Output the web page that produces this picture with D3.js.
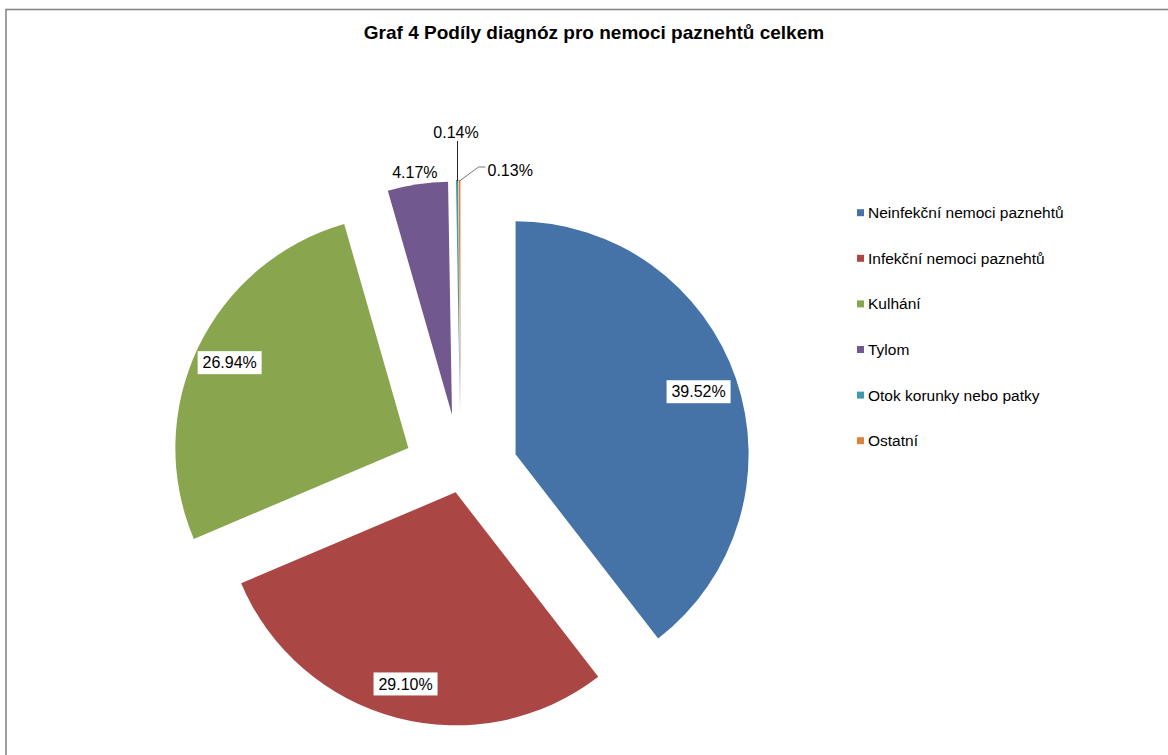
<!DOCTYPE html>
<html>
<head>
<meta charset="utf-8">
<script src="https://cdn.jsdelivr.net/npm/d3@7"></script>
<style>
    body { margin: 0; background: #fff; }
    text { font-family: "Liberation Sans", Arial, sans-serif; }
</style>
</head>
<body>
<div class="chart"></div>
<script>
let categories = [
    "Neinfekční nemoci paznehtů",
    "Infekční nemoci paznehtů",
    "Kulhání",
    "Tylom",
    "Otok korunky nebo patky",
    "Ostatní"
]

let values = [39.52, 29.10, 26.94, 4.17, 0.14, 0.13]

let labels = ["39.52%", "29.10%", "26.94%", "4.17%", "0.14%", "0.13%"]

let colors = ["#4572a7", "#aa4643", "#89a54e", "#71588f", "#4198af", "#db843d"]

// how far each slice is pulled out
let explode = [58, 20, 58, 59, 60, 60]

const width = 1168, height = 755
const radius = 233
const cx = 460.7, cy = 473

const svg = d3.select('.chart')
    .append('svg')
    .attr('width', width)
    .attr('height', height)

// chart area border
svg.append('rect')
    .attr('x', 6)
    .attr('y', 9.5)
    .attr('width', width + 20)
    .attr('height', height + 20)
    .attr('fill', 'none')
    .attr('stroke', '#888')
    .attr('stroke-width', 1.6)

svg.append('text')
    .attr('x', 594)
    .attr('y', 39)
    .attr('text-anchor', 'middle')
    .attr('font-weight', 'bold')
    .attr('font-size', '19px')
    .attr('fill', '#000')
    .text('Graf 4 Podíly diagnóz pro nemoci paznehtů celkem')

const pie = d3.pie().sort(null).value(d => d.value)
const data = pie(categories.map((c, i) => ({ name: c, value: values[i], i: i })))

const arc = d3.arc().innerRadius(0).outerRadius(radius)
const mid = d => (d.startAngle + d.endAngle) / 2
const offset = (d, r) => [Math.sin(mid(d)) * r, -Math.cos(mid(d)) * r]

const g = svg.append('g').attr('transform', `translate(${cx}, ${cy})`)

const slices = g.selectAll('.slice')
    .data(data)
    .join('g')
    .attr('class', 'slice')
    .attr('transform', d => `translate(${offset(d, explode[d.data.i])})`)

slices.append('path')
    .attr('d', arc)
    .attr('fill', d => colors[d.data.i])

// inside labels with white boxes
let labelR = [0.83, 0.85, 0.85]
const inner = slices.filter(d => d.data.i < 3)
inner.each(function(d) {
    const p = offset(d, radius * labelR[d.data.i])
    const sel = d3.select(this)
    sel.append('rect')
        .attr('x', p[0] - 32)
        .attr('y', p[1] - 11.5)
        .attr('width', 64)
        .attr('height', 23)
        .attr('fill', '#fff')
    sel.append('text')
        .attr('x', p[0])
        .attr('y', p[1])
        .attr('dy', '0.35em')
        .attr('text-anchor', 'middle')
        .attr('font-size', '16px')
        .attr('fill', '#000')
        .text(labels[d.data.i])
})

// purple label outside end
slices.filter(d => d.data.i == 3).each(function(d) {
    const p = offset(d, radius + 12)
    d3.select(this).append('text')
        .attr('x', p[0] - 1)
        .attr('y', p[1])
        .attr('dy', '0.35em')
        .attr('text-anchor', 'middle')
        .attr('font-size', '16px')
        .attr('fill', '#000')
        .text(labels[d.data.i])
})

// small slices with leader lines
slices.filter(d => d.data.i == 4).each(function(d) {
    const p = offset(d, radius - 1)
    const sel = d3.select(this)
    sel.append('line')
        .attr('x1', p[0] + 0.5).attr('y1', p[1])
        .attr('x2', p[0] + 0.5).attr('y2', p[1] - 40)
        .attr('stroke', '#222')
        .attr('stroke-width', 1)
    sel.append('text')
        .attr('x', p[0] - 1)
        .attr('y', p[1] - 49)
        .attr('dy', '0.35em')
        .attr('text-anchor', 'middle')
        .attr('font-size', '16px')
        .attr('fill', '#000')
        .text(labels[d.data.i])
})

slices.filter(d => d.data.i == 5).each(function(d) {
    const p = offset(d, radius - 1)
    const sel = d3.select(this)
    sel.append('polyline')
        .attr('points', [[p[0], p[1]], [p[0] + 19, p[1] - 14], [p[0] + 26, p[1] - 14]].join(' '))
        .attr('fill', 'none')
        .attr('stroke', '#777')
        .attr('stroke-width', 1)
    sel.append('text')
        .attr('x', p[0] + 28)
        .attr('y', p[1] - 11)
        .attr('dy', '0.35em')
        .attr('font-size', '16px')
        .attr('fill', '#000')
        .text(labels[d.data.i])
})

// legend
const yLegend = d3.scalePoint()
    .domain(categories)
    .range([212.7, 440.7])

const legend = svg.append('g')
    .selectAll('g')
    .data(categories)
    .join('g')
    .attr('transform', d => `translate(857, ${yLegend(d)})`)

legend.append('rect')
    .attr('x', 0)
    .attr('y', -3.5)
    .attr('width', 7)
    .attr('height', 7)
    .attr('fill', (d, i) => colors[i])

legend.append('text')
    .attr('x', 11)
    .attr('dy', '0.35em')
    .attr('font-size', '15.5px')
    .attr('fill', '#000')
    .text(d => d)
</script>
</body>
</html>
